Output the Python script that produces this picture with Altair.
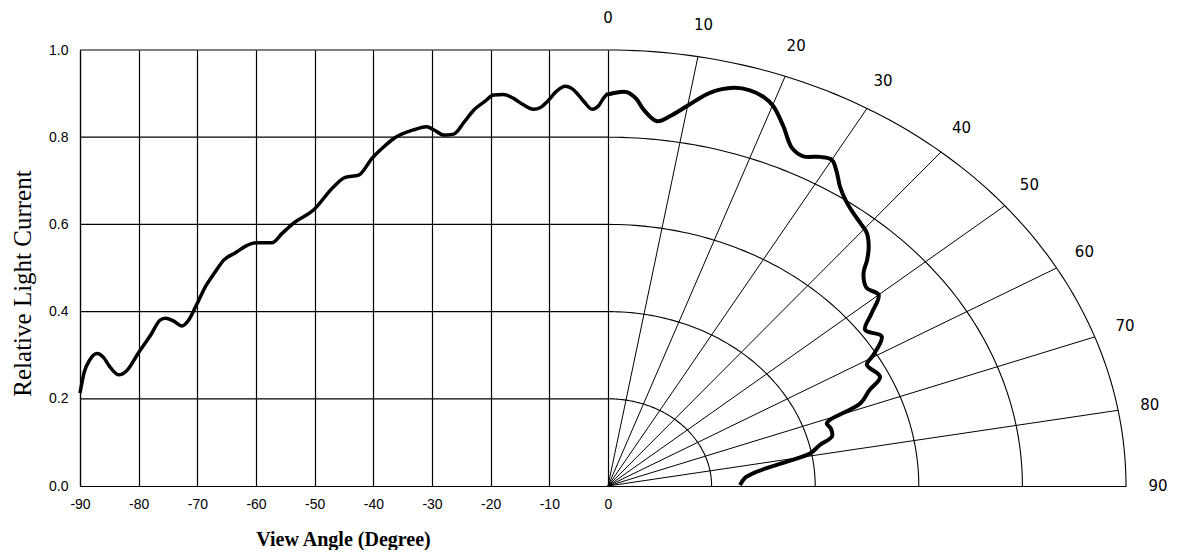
import math
import altair as alt
import pandas as pd

# ---------------- data ----------------
# Cartesian half: view angle (deg) vs relative light current
left_angle = [-90, -89.3, -88.3, -87.1, -86, -85, -83.4, -82, -80.1, -78, -76.3, -75.4,
              -74, -72.6, -71.5, -70.3, -68.5, -67, -65.5, -63.5, -61.5, -60, -57.3,
              -55.5, -53.6, -50.2, -46.8, -44.8, -42.5, -40.2, -38.3, -36.5, -33.1,
              -30.9, -29.7, -28.0, -26.3, -24.5, -22.9, -21, -19.5, -17.8, -16.1,
              -14.5, -12.7, -11.5, -10.4, -8.8, -7.3, -6.2, -5.3, -4, -2.7, -1.6,
              -0.8, 0]
left_value = [0.213, 0.26, 0.29, 0.304, 0.295, 0.275, 0.255, 0.265, 0.304, 0.345, 0.381,
              0.385, 0.378, 0.367, 0.38, 0.411, 0.46, 0.49, 0.518, 0.535, 0.552, 0.558,
              0.558, 0.58, 0.603, 0.633, 0.686, 0.708, 0.713, 0.752, 0.777, 0.797,
              0.817, 0.824, 0.817, 0.805, 0.807, 0.835, 0.862, 0.882, 0.897, 0.898,
              0.889, 0.875, 0.864, 0.868, 0.881, 0.905, 0.917, 0.912, 0.901, 0.88,
              0.864, 0.872, 0.889, 0.901]

# Polar half: angle from vertical (deg) and radius (relative light current)
polar_theta = [0, 2.3, 3.5, 4.55, 6.45, 8.07, 9.9, 12.3, 14.9, 16.8, 18.5, 20.1, 22.3,
               24.6, 26.5, 28.5, 30.0, 31.5, 33.1, 35, 37.1, 39, 40.7, 42.5, 44, 45.3,
               47.7, 50.0, 52.1, 54.2, 57.0, 59.6, 60.9, 64.5, 66.5, 68.7, 70.5, 71.2,
               73, 75.3, 77, 79.1, 80.8, 83.5, 86, 89.5]
polar_r = [0.898, 0.904, 0.89, 0.866, 0.842, 0.857, 0.884, 0.923, 0.945, 0.948, 0.942,
           0.928, 0.892, 0.853, 0.845, 0.859, 0.864, 0.845, 0.820, 0.80, 0.785, 0.775,
           0.766, 0.745, 0.72, 0.694, 0.675, 0.682, 0.645, 0.612, 0.630, 0.594, 0.572,
           0.582, 0.55, 0.523, 0.455, 0.446, 0.45, 0.447, 0.42, 0.398, 0.35, 0.289,
           0.265, 0.255]

# axes / grid definitions
x_ticks = [-90, -80, -70, -60, -50, -40, -30, -20, -10, 0]
y_ticks = [0.0, 0.2, 0.4, 0.6, 0.8, 1.0]
h_grid = [0.2, 0.4, 0.6, 0.8, 1.0]
ring_r = [0.2, 0.4, 0.6, 0.8, 1.0]
spoke_deg = [10, 20, 30, 40, 50, 60, 70, 80]
polar_label_deg = [0, 10, 20, 30, 40, 50, 60, 70, 80, 90]
polar_label_txt = ["0", "10", "20", "30", "40", "50", "60", "70", "80", "90"]

# geometry of the drawing
K = 88.3            # x-units per unit radius of the polar half
LAB_RX, LAB_RY = 1.062, 1.073
X_MIN, X_MAX = -90, K

rad = math.radians

df_left = pd.DataFrame({"angle": left_angle, "value": left_value})
df_polar = pd.DataFrame({
    "i": list(range(len(polar_theta))),
    "px": [K * r * math.sin(rad(t)) for t, r in zip(polar_theta, polar_r)],
    "py": [r * math.cos(rad(t)) for t, r in zip(polar_theta, polar_r)],
})
df_h = pd.DataFrame({"y": h_grid, "x0": [x_ticks[0]] * len(h_grid), "x1": [x_ticks[-1]] * len(h_grid)})
df_spokes = pd.DataFrame({
    "x0": [0.0] * len(spoke_deg), "y0": [0.0] * len(spoke_deg),
    "x1": [K * math.sin(rad(d)) for d in spoke_deg],
    "y1": [math.cos(rad(d)) for d in spoke_deg],
})
arc_rows = []
for r in ring_r:
    for d in range(0, 91):
        arc_rows.append({"ring": r, "d": d, "x": K * r * math.sin(rad(d)), "y": r * math.cos(rad(d))})
df_arcs = pd.DataFrame(arc_rows)
df_lab = pd.DataFrame({
    "txt": polar_label_txt,
    "x": [LAB_RX * K * math.sin(rad(d)) for d in polar_label_deg],
    "y": [LAB_RY * math.cos(rad(d)) for d in polar_label_deg],
})

xs = alt.Scale(domain=[X_MIN, X_MAX], nice=False, zero=False)
ys = alt.Scale(domain=[0, 1], nice=False, zero=False)

x_axis = alt.Axis(values=x_ticks, grid=True, gridColor="black", gridOpacity=1, gridWidth=1.2,
                  domainColor="black", domainWidth=1.2, ticks=False, tickSize=0,
                  labelExpr="replace(format(datum.value, 'd'), '\u2212', '-')",
                  labelFont="Liberation Sans", labelFontSize=14, labelColor="black",
                  labelPadding=18, labelBaseline="middle", labelAngle=0,
                  labelFlush=False, labelOverlap=False,
                  title="View Angle (Degree)", titleFont="Liberation Serif", titleFontSize=20,
                  titleFontWeight="bold", titleColor="black", titleX=263, titleY=59,
                  titleBaseline="alphabetic", titleAlign="center")
y_axis = alt.Axis(values=y_ticks, format=".1f", grid=False, ticks=False, tickSize=0,
                  domainColor="black", domainWidth=1.2,
                  labelFont="Liberation Sans", labelFontSize=14, labelColor="black",
                  labelPadding=12, labelFlush=False, labelOverlap=False,
                  title="Relative Light Current", titleFont="Liberation Serif", titleFontSize=25,
                  titleFontWeight="normal", titleColor="black", titleAngle=270,
                  titleX=-58, titleY=233, titleAlign="center", titleBaseline="middle")


def X(field):
    return alt.X(field, scale=xs, axis=x_axis)


def Y(field):
    return alt.Y(field, scale=ys, axis=y_axis)


base_left = alt.Chart(df_left).mark_line(color="black", strokeWidth=3.5, interpolate="monotone").encode(
    x=X("angle:Q"), y=Y("value:Q"),
)

hrules = alt.Chart(df_h).mark_rule(color="black", strokeWidth=1.2).encode(
    x=X("x0:Q"), x2="x1:Q", y=Y("y:Q"),
)

spokes = alt.Chart(df_spokes).mark_rule(color="black", strokeWidth=1).encode(
    x=X("x0:Q"), x2="x1:Q", y=Y("y0:Q"), y2="y1:Q",
)

arcs = alt.Chart(df_arcs).mark_line(color="black", strokeWidth=1.1).encode(
    x=X("x:Q"), y=Y("y:Q"), detail="ring:N", order="d:Q",
)

polar_line = alt.Chart(df_polar).mark_line(color="black", strokeWidth=4, interpolate="catmull-rom").encode(
    x=X("px:Q"), y=Y("py:Q"), order="i:Q",
)

labels = alt.Chart(df_lab).mark_text(font="DejaVu Sans", fontSize=15, color="black",
                                     align="center", baseline="middle").encode(
    x=X("x:Q"), y=Y("y:Q"), text="txt:N",
)

chart = alt.layer(hrules, spokes, arcs, base_left, polar_line, labels).properties(
    width=1046, height=436,
    autosize=alt.AutoSizeParams(type="none"),
    padding={"left": 72, "top": 42, "right": 43, "bottom": 64},
).configure_view(stroke=None)

chart.save("out.html", embed_options={"renderer": "svg", "actions": False})
